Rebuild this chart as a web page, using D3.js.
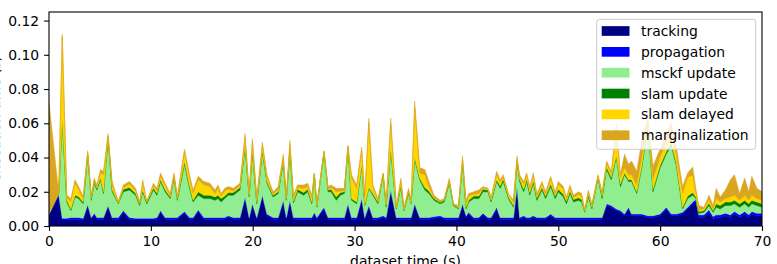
<!DOCTYPE html>
<html>
<head>
<meta charset="utf-8">
<script src="https://cdn.jsdelivr.net/npm/d3@7"></script>
<style>
  body { margin: 0; background: #fff; }
  svg { display: block; font-family: "DejaVu Sans", sans-serif; }
</style>
</head>
<body>
<div id="chart"></div>
<script>
// dataset time (s) of each sample
const times = [
  0, 0.95, 1.3, 1.75, 2.15, 2.55, 2.9, 3.35, 3.8, 4.15,
  4.45, 4.7, 5.05, 5.35, 5.8, 6.2, 6.8, 7.3, 7.9, 8.5,
  8.9, 9.2, 9.6, 10.25, 10.6, 10.95, 11.4, 11.9, 12.27, 12.6,
  13.3, 13.8, 14.15, 14.65, 15.2, 15.8, 16.3, 16.6, 16.9, 17.25,
  17.6, 18.1, 18.75, 19.25, 19.65, 19.97, 20.4, 20.95, 21.4, 22.0,
  22.5, 23.0, 23.3, 23.65, 24.0, 24.4, 25.0, 25.4, 25.8, 26.05,
  26.3, 27.0, 27.4, 27.7, 28.2, 28.6, 29.0, 29.35, 29.7, 30.2,
  30.7, 31.0, 31.4, 31.8, 32.3, 32.8, 33.1, 33.55, 34.1, 34.55,
  34.85, 35.3, 35.55, 35.9, 36.4, 36.9, 37.3, 37.8, 38.4, 38.8,
  39.3, 39.7, 40.2, 40.6, 40.95, 41.2, 41.7, 42.2, 42.6, 43.1,
  43.4, 43.95, 44.3, 44.6, 45.1, 45.6, 45.95, 46.2, 46.6, 46.9,
  47.2, 47.55, 47.9, 48.4, 48.75, 49.25, 49.7, 50.0, 50.5, 50.8,
  51.15, 51.5, 51.97, 52.3, 52.6, 52.95, 53.3, 53.9, 54.3, 54.75,
  55.2, 55.7, 56.1, 56.5, 56.9, 57.2, 57.7, 58.2, 58.8, 59.3,
  60.0, 60.6, 61.1, 61.6, 62.2, 62.7, 63.2, 63.5, 63.8, 64.3,
  64.8, 65.2, 65.5, 65.9, 66.4, 66.9, 67.3, 67.8, 68.3, 68.7, 69.0, 69.5, 70.0
];

const tracking = [
  .006, .0175, .0035, .0035, .004, .004, .004, .0035, .0115, .004,
  .0065, .004, .004, .004, .011, .004, .004, .008, .004, .0035,
  .0035, .0035, .0035, .0035, .004, .008, .004, .004, .004, .004,
  .0075, .004, .004, .0085, .004, .004, .004, .004, .004, .004,
  .005, .004, .004, .016, .004, .012, .004, .017, .006, .004,
  .004, .014, .004, .014, .004, .004, .004, .004, .004, .007,
  .004, .010, .004, .004, .004, .004, .004, .012, .004, .004,
  .015, .004, .011, .004, .004, .005, .004, .020, .004, .004,
  .004, .004, .004, .012, .004, .004, .004, .0045, .005, .004,
  .004, .004, .004, .012, .005, .007, .004, .004, .0065, .004,
  .004, .010, .004, .004, .004, .004, .022, .004, .005, .004,
  .004, .005, .004, .004, .004, .006, .004, .004, .004, .004,
  .004, .004, .004, .004, .004, .004, .004, .004, .004, .012,
  .011, .009, .008, .006, .010, .006, .006, .006, .005, .005,
  .006, .010, .006, .006, .007, .010, .013, .014, .005, .005,
  .008, .004, .005, .005, .006, .005, .007, .005, .007, .005, .007, .006, .006
];

const propagation = [
  .001, .001, .001, .001, .001, .001, .001, .001, .001, .001,
  .001, .001, .001, .001, .001, .001, .001, .001, .001, .001,
  .001, .001, .001, .001, .001, .001, .001, .001, .001, .001,
  .001, .001, .001, .001, .001, .001, .001, .001, .001, .001,
  .001, .001, .001, .001, .001, .001, .001, .001, .001, .001,
  .001, .001, .001, .001, .001, .001, .001, .001, .001, .001,
  .001, .001, .001, .001, .001, .001, .001, .001, .001, .001,
  .001, .001, .001, .001, .001, .001, .001, .001, .001, .001,
  .001, .001, .001, .001, .001, .001, .001, .001, .001, .001,
  .001, .001, .001, .001, .001, .001, .001, .001, .001, .001,
  .001, .001, .001, .001, .001, .001, .001, .001, .001, .001,
  .001, .001, .001, .001, .001, .001, .001, .001, .001, .001,
  .001, .001, .001, .001, .001, .001, .001, .001, .001, .001,
  .001, .001, .001, .001, .001, .001, .001, .001, .001, .001,
  .001, .001, .001, .001, .001, .001, .001, .0015, .0015, .0015,
  .0015, .0015, .0015, .0015, .0015, .0015, .0015, .0015, .0015, .0015, .0015, .0015, .0015
];

const msckfUpdate = [
  .0005, .0005, .0565, .0095, .004, .012, .011, .0085, .0285, .010,
  .0175, .016, .022, .014, .039, .015, .008, .011, .016, .0135,
  .0075, .0155, .0085, .0165, .013, .017, .015, .011, .023, .010,
  .0275, .017, .009, .0085, .011, .011, .010, .011, .009, .011,
  .012, .013, .016, .029, .012, .030, .008, .025, .018, .012,
  .014, .022, .010, .029, .0085, .015, .013, .015, .008, .022,
  .006, .032, .015, .015, .010, .013, .014, .033, .010, .008,
  .019, .007, .010, .013, .008, .024, .006, .023, .005, .018,
  .004, .014, .008, .026, .022, .016, .014, .0095, .007, .009,
  .020, .007, .005, .023, .004, .006, .011, .011, .0125, .015,
  .009, .015, .017, .021, .011, .006, .014, .021, .014, .021,
  .013, .019, .010, .016, .011, .016, .011, .015, .012, .008,
  .014, .009, .010, .009, .003, .012, .005, .023, .011, .020,
  .015, .030, .014, .023, .015, .019, .012, .027, .053, .014,
  .027, .031, .040, .028, .002, .005, .004, .0005, .001, .0015,
  .0025, .0025, .0045, .0035, .0045, .0055, .0045, .0045, .0045, .0045, .0045, .0045, .0035
];

const slamUpdate = [
  0, .0003, .001, .001, .001, .001, .0012, .001, .001, .001,
  .0012, .001, .001, .001, .001, .0012, .0005, .0015, .0015, .0012,
  .001, .001, .001, .0012, .0012, .0012, .0012, .001, .001, .001,
  .0015, .0015, .001, .002, .002, .002, .002, .002, .002, .0015,
  .0015, .0015, .0015, .001, .001, .001, .001, .001, .001, .001,
  .001, .001, .001, .001, .001, .0015, .0015, .0015, .001, .0003,
  .0005, .0003, .001, .0015, .002, .0015, .001, .0003, .001, .001,
  .0005, .0005, .0005, .001, .001, .0003, .001, .001, .0005, .001,
  .0005, .001, .0005, .001, .001, .0015, .0015, .001, .0008, .001,
  .001, .0005, .0005, .001, .001, .001, .0015, .0015, .0015, .001,
  .001, .001, .0015, .0015, .001, .001, .001, .0015, .0015, .0015,
  .0015, .0015, .0015, .0015, .0015, .0015, .0015, .0015, .0015, .0015,
  .0015, .0015, .0015, .0015, .0005, .0015, .001, .0005, .0015, .0015,
  .0015, .001, .0015, .001, .001, .001, .001, .001, .001, .0015,
  .0015, .0015, .0015, .0015, .001, .0015, .0015, .001, .001, .001,
  .0015, .001, .002, .002, .002, .002, .002, .002, .002, .002, .002, .002, .002
];

const slamDelayed = [
  0, .0002, .0485, .0015, .0045, .007, .0043, .002, .0005, .0005,
  .0003, .0005, .003, .010, .0005, .0028, .0002, .001, .002, .0013,
  .0003, .004, .0002, .0013, .0013, .0018, .0023, .0005, .0005, .0005,
  .0055, .0045, .004, .007, .006, .005, .002, .004, .0015, .003,
  .002, .001, .001, .005, .0005, .005, .0015, .003, .0025, .0005,
  .0015, .002, .0002, .003, .002, .001, .0025, .0015, .0025, .0002,
  .0005, .0002, .0005, .001, .003, .001, .0005, .0002, .012, .008,
  .0085, .004, .0375, .0035, .0005, .0002, .001, .015, .0005, .002,
  .0005, .0005, .001, .029, .003, .0075, .0025, .0005, .0002, .0005,
  .0005, .0002, .0005, .002, .002, .0025, .001, .0015, .0005, .0005,
  .001, .003, .002, .001, .0015, .002, .001, .001, .003, .002,
  .002, .003, .001, .002, .001, .003, .001, .003, .003, .001,
  .002, .001, .002, .002, .0005, .001, .001, .0005, .001, .002,
  .002, .016, .004, .003, .003, .003, .004, .005, .001, .006,
  .005, .005, .006, .005, .008, .011, .010, .002, .001, .001,
  .002, .001, .003, .002, .002, .003, .003, .002, .003, .002, .003, .002, .002
];

const marginalization = [
  .0645, .0005, .0015, .0015, .0015, .002, .0015, .0015, .0015, .0015,
  .0015, .0015, .002, .002, .0015, .002, .0008, .0015, .0015, .0015,
  .0012, .002, .0003, .0015, .0015, .002, .0015, .0015, .0015, .0015,
  .002, .002, .002, .002, .002, .002, .002, .002, .0015, .0015,
  .0015, .0015, .0015, .002, .0015, .002, .0015, .002, .0015, .0015,
  .0015, .002, .0008, .002, .0015, .0015, .002, .002, .0015, .0005,
  .001, .0005, .0015, .0015, .002, .0015, .0015, .0005, .002, .002,
  .002, .0015, .003, .0015, .0015, .0005, .001, .003, .001, .002,
  .001, .0015, .0005, .004, .003, .003, .003, .0015, .001, .0005,
  .0015, .0003, .001, .002, .002, .0015, .0015, .002, .001, .0005,
  .001, .002, .0015, .0015, .0005, .001, .002, .0015, .0015, .0015,
  .0015, .0015, .0015, .0015, .0015, .0015, .0015, .0015, .0015, .0015,
  .0015, .0015, .0015, .0015, .0005, .0015, .001, .001, .0015, .0015,
  .0015, .003, .0015, .008, .006, .008, .008, .010, .002, .0075,
  .0045, .0045, .0055, .0045, .004, .0025, .005, .003, .0025, .001,
  .0025, .002, .006, .003, .005, .010, .012, .004, .010, .005, .011, .006, .005
];

const seriesNames = ["tracking", "propagation", "msckf update", "slam update", "slam delayed", "marginalization"];
const seriesValues = [tracking, propagation, msckfUpdate, slamUpdate, slamDelayed, marginalization];
const seriesColors = ["navy", "blue", "lightgreen", "green", "gold", "goldenrod"];
const xTicks = [0, 10, 20, 30, 40, 50, 60, 70];
const yTicks = [0, 0.02, 0.04, 0.06, 0.08, 0.10, 0.12];

const width = 777, height = 264;
const plotLeft = 49, plotRight = 762, plotTop = 12, plotBottom = 226;
const fontSize = "13.9px";

const svg = d3.select("#chart").append("svg")
    .attr("width", width)
    .attr("height", height);

const x = d3.scaleLinear().domain([0, 70]).range([plotLeft, plotRight]);
const y = d3.scaleLinear().domain([0, 0.125]).range([plotBottom, plotTop]);

// one row per sample, keyed by series name
const rows = times.map((t, i) => {
  const r = {t: t};
  seriesNames.forEach((k, j) => { r[k] = seriesValues[j][i]; });
  return r;
});

const layers = d3.stack().keys(seriesNames)(rows);

const area = d3.area()
    .x(d => x(d.data.t))
    .y0(d => y(d[0]))
    .y1(d => y(d[1]));

svg.append("clipPath").attr("id", "plotclip")
  .append("rect")
    .attr("x", plotLeft).attr("y", plotTop)
    .attr("width", plotRight - plotLeft).attr("height", plotBottom - plotTop);

svg.append("g")
    .attr("clip-path", "url(#plotclip)")
  .selectAll("path")
  .data(layers)
  .join("path")
    .attr("d", area)
    .attr("fill", (d, i) => seriesColors[i])
    .attr("stroke", (d, i) => seriesColors[i])
    .attr("stroke-width", 0.5)
    .attr("stroke-linejoin", "round");

// axes
const xAxis = svg.append("g")
    .attr("transform", `translate(0,${plotBottom})`)
    .call(d3.axisBottom(x).tickValues(xTicks).tickFormat(d3.format("d"))
      .tickSize(4.9).tickPadding(4.9));

const yAxis = svg.append("g")
    .attr("transform", `translate(${plotLeft},0)`)
    .call(d3.axisLeft(y).tickValues(yTicks).tickFormat(d3.format(".2f"))
      .tickSize(4.9).tickPadding(4.9));

[xAxis, yAxis].forEach(a => {
  a.select(".domain").remove();
  a.selectAll("line").attr("stroke", "#000").attr("stroke-width", 1.1);
  a.selectAll("text")
    .attr("fill", "#000")
    .style("font-family", "DejaVu Sans")
    .style("font-size", fontSize);
});

// frame
svg.append("rect")
    .attr("x", plotLeft).attr("y", plotTop)
    .attr("width", plotRight - plotLeft).attr("height", plotBottom - plotTop)
    .attr("fill", "none")
    .attr("stroke", "#000")
    .attr("stroke-width", 1.1);

// labels
svg.append("text")
    .attr("x", (plotLeft + plotRight) / 2)
    .attr("y", 265.5)
    .attr("text-anchor", "middle")
    .style("font-size", fontSize)
    .text("dataset time (s)");

svg.append("text")
    .attr("transform", "translate(-0.3,119) rotate(-90)")
    .attr("text-anchor", "middle")
    .style("font-size", fontSize)
    .text("execution time (s)");

// legend
const lg = svg.append("g");
lg.append("rect")
    .attr("x", 596.7).attr("y", 19.3)
    .attr("width", 159).attr("height", 130)
    .attr("rx", 2.8)
    .attr("fill", "#fff")
    .attr("fill-opacity", 0.8)
    .attr("stroke", "#cccccc")
    .attr("stroke-width", 1);

const entry = lg.selectAll("g.entry")
  .data(seriesNames)
  .join("g")
    .attr("class", "entry")
    .attr("transform", (d, i) => `translate(0,${31 + i * 20.85})`);

entry.append("rect")
    .attr("x", 601.7).attr("y", -4.85)
    .attr("width", 27.8).attr("height", 9.7)
    .attr("fill", (d, i) => seriesColors[i]);

entry.append("text")
    .attr("x", 641)
    .attr("y", 5)
    .style("font-size", fontSize)
    .text(d => d);
</script>
</body>
</html>
